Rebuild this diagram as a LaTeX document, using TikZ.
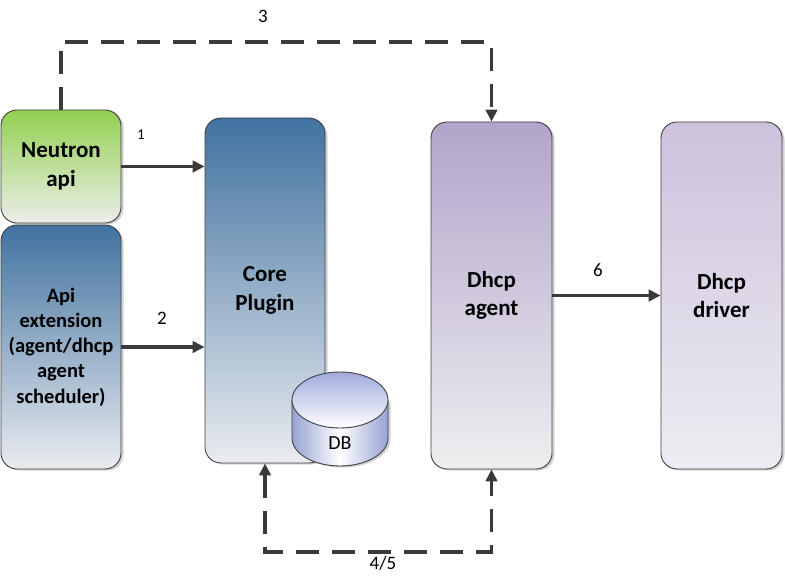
\documentclass[tikz,border=0pt]{standalone}
\usepackage{fontspec}
\setmainfont{Carlito}
\usetikzlibrary{arrows.meta,shadows}
\definecolor{boxline}{RGB}{64,64,64}
\definecolor{arrcol}{RGB}{58,58,58}
\definecolor{greentop}{RGB}{146,208,80}
\definecolor{greenbot}{RGB}{236,238,234}
\definecolor{bluetop}{RGB}{65,114,160}
\definecolor{bluebot}{RGB}{234,236,240}
\definecolor{agenttop}{RGB}{178,164,202}
\definecolor{agentbot}{RGB}{238,238,240}
\definecolor{drivertop}{RGB}{204,194,220}
\definecolor{driverbot}{RGB}{238,236,242}
\definecolor{dbside}{RGB}{150,162,212}
\definecolor{dbtop}{RGB}{160,170,222}
\begin{document}
\begin{tikzpicture}[x=1pt,y=-1pt,
  box/.style={draw=boxline, line width=0.9pt, rounded corners=16pt, inner sep=0pt,
    align=center, text width=118pt,
    drop shadow={shadow xshift=2.5pt, shadow yshift=-1.5pt, fill=black!18, opacity=1}},
  bigtext/.style={font=\fontsize{23}{28.5}\selectfont\bfseries},
  midtext/.style={font=\fontsize{20.5}{25.3}\selectfont\bfseries},
  lbl/.style={font=\fontsize{19}{22}\selectfont, text=black, inner sep=0pt},
  arr/.style={draw=arrcol, line width=3.1pt, -{Triangle[length=12pt,width=11.5pt]}},
  dasharr/.style={arr, dash pattern=on 23pt off 13pt},
]
\useasboundingbox (0,0) rectangle (785,577);

\node[box, bigtext, top color=greentop, bottom color=greenbot, minimum width=120pt, minimum height=113pt] (neutron) at (61,166.5) {Neutron\\api};
\node[box, midtext, top color=bluetop, bottom color=bluebot, minimum width=120pt, minimum height=244pt] (apiext) at (61,347) {Api\\extension\\(agent/dhcp\\agent\\scheduler)};
\node[box, bigtext, top color=bluetop, bottom color=bluebot, minimum width=120pt, minimum height=345pt] (core) at (265,290.5) {Core\\Plugin};
\node[box, bigtext, top color=agenttop, bottom color=agentbot, minimum width=121pt, minimum height=347pt] (agent) at (491.5,295.5) {Dhcp\\agent};
\node[box, bigtext, top color=drivertop, bottom color=driverbot, minimum width=121pt, minimum height=347pt] (driver) at (721.5,295.5) {Dhcp\\driver};

% DB cylinder
\fill[black!18] (294.5,401.5) -- (294.5,439.5) arc[start angle=180,end angle=360,x radius=48pt,y radius=28pt] -- (390.5,401.5) -- cycle;
\path[left color=dbside, right color=dbside, middle color=white]
  (292,400) -- (292,438) arc[start angle=180,end angle=360,x radius=48pt,y radius=28pt] -- (388,400)
  arc[start angle=0,end angle=180,x radius=48pt,y radius=28pt] -- cycle;
\draw[boxline, line width=0.9pt]
  (292,400) -- (292,438) arc[start angle=180,end angle=360,x radius=48pt,y radius=28pt] -- (388,400);
\path[top color=dbtop, bottom color=white, draw=boxline, line width=0.9pt] (340,400) ellipse[x radius=48pt, y radius=28pt];
\node[font=\fontsize{20}{24}\selectfont, inner sep=0pt] (db) at (340,443) {DB};

% solid arrows
\draw[arr] (neutron.east) -- (neutron.east -| core.west);
\draw[arr] (apiext.east) -- (apiext.east -| core.west);
\draw[arr] (agent.east) -- (agent.east -| driver.west);

% dashed arrows
\coordinate (c3) at (276,42);
\coordinate (c45) at (378,552);
\draw[dasharr] (neutron.north) |- (c3) -| (agent.north);
\draw[dasharr, {Triangle[length=12pt,width=11.5pt]}-{Triangle[length=12pt,width=11.5pt]}] (core.south) |- (c45) -| (agent.south);

% labels
\node[lbl, font=\fontsize{15}{18}\selectfont] (l1) at (141,135) {1};
\node[lbl] (l2) at (162,318) {2};
\node[lbl] (l3) at (263,16) {3};
\node[lbl] (l6) at (598,270) {6};
\node[lbl] (l45) at (383,563) {4/5};
\end{tikzpicture}
\end{document}
